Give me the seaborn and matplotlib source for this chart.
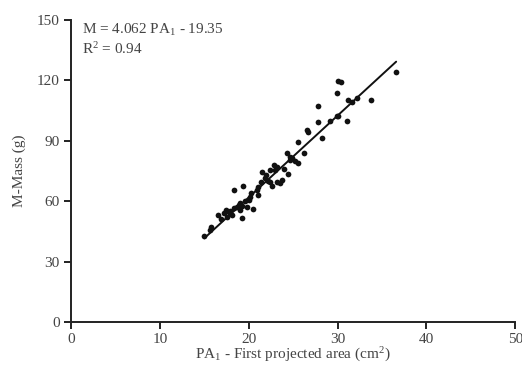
import numpy as np
import pandas as pd
import seaborn as sns
import matplotlib.pyplot as plt

# PA1 (cm2) vs M-Mass (g)
pa1 = [15.0, 15.7, 15.8, 16.6, 17.2, 17.5, 17.6, 17.8, 18.1, 18.4,
       18.7, 19.0, 19.2, 19.0, 19.8, 20.5, 18.3, 19.4, 19.6, 20.2,
       20.3, 20.9, 21.1, 21.1, 21.4, 21.5, 21.8, 22.0, 22.4, 22.6,
       22.4, 22.8, 23.0, 23.2, 23.2, 23.5, 23.7, 24.4, 24.3, 24.6,
       24.7, 24.9, 25.6, 25.5, 26.2, 26.7, 26.6, 28.2, 27.8, 27.8,
       29.1, 29.9, 31.1, 31.6, 30.1, 30.4, 29.9, 31.2, 32.2, 33.8,
       36.6, 30.1, 17.9, 18.9, 20.0, 22.2, 24.0, 25.2, 16.9, 19.3]
mass = [42.7, 45.7, 47.3, 53.2, 54.0, 55.6, 52.3, 54.8, 53.2, 56.5,
        57.3, 55.6, 51.5, 59.0, 57.3, 56.0, 65.4, 67.6, 60.3, 62.3,
        63.9, 65.6, 63.1, 66.9, 69.7, 74.7, 71.4, 73.0, 69.7, 67.6,
        75.5, 78.0, 75.5, 77.1, 69.7, 69.2, 70.5, 73.7, 83.8, 82.1,
        80.5, 81.3, 79.1, 89.6, 83.8, 94.5, 95.4, 91.3, 99.5, 107.2,
        99.7, 102.3, 100.0, 109.4, 119.9, 119.0, 113.9, 110.3, 111.4, 110.3,
        124.3, 102.5, 55.0, 58.0, 60.5, 70.0, 76.0, 80.0, 51.0, 57.5]

# fitted equation shown on the chart
slope = 4.062
intercept = -19.35
r2 = 0.94
fit_x = [15.0, 36.6]

x_ticks = [0, 10, 20, 30, 40, 50]
y_ticks = [0, 30, 60, 90, 120, 150]

df = pd.DataFrame({"PA1": pa1, "Mass": mass})
fit = pd.DataFrame({"PA1": fit_x})
fit["Mass"] = slope * fit["PA1"] + intercept

sns.set_style("ticks")
plt.rcParams["font.family"] = ["Liberation Serif", "DejaVu Serif"]
plt.rcParams["mathtext.fontset"] = "custom"
plt.rcParams["mathtext.rm"] = "Liberation Serif"
plt.rcParams["mathtext.it"] = "Liberation Serif:italic"

txt = "#444444"
fs = 11
fig = plt.figure(figsize=(5.22, 3.71), dpi=100)
ax = fig.add_axes([0.136, 0.132, 0.851, 0.814])

sns.scatterplot(data=df, x="PA1", y="Mass", ax=ax, color="#111111",
                s=17, linewidth=0, zorder=3)
sns.lineplot(data=fit, x="PA1", y="Mass", ax=ax, color="#111111",
             linewidth=1.4, zorder=4)

ax.set_xlim(0, 50)
ax.set_ylim(0, 150)
ax.set_xticks(x_ticks)
ax.set_yticks(y_ticks)
ax.tick_params(axis="both", direction="out", length=5, width=1.4,
               color="#222222", labelsize=fs, labelcolor=txt, pad=3)
for side in ["left", "bottom"]:
    ax.spines[side].set_linewidth(1.4)
    ax.spines[side].set_color("#222222")
sns.despine(ax=ax)

ax.set_xlabel(r"PA$_\mathregular{1}$ - First projected area (cm$^\mathregular{2}$)",
              fontsize=fs, color=txt, labelpad=0)
ax.set_ylabel("M-Mass (g)", fontsize=fs, color=txt, labelpad=8)

ax.text(1.2, 149, r"M = %.3f PA$_\mathregular{1}$ - %.2f" % (slope, -intercept),
        fontsize=fs, color=txt, va="top")
ax.text(1.2, 139.5, r"R$^\mathregular{2}$ = %.2f" % r2,
        fontsize=fs, color=txt, va="top")

fig.savefig("out.png", dpi=100)
